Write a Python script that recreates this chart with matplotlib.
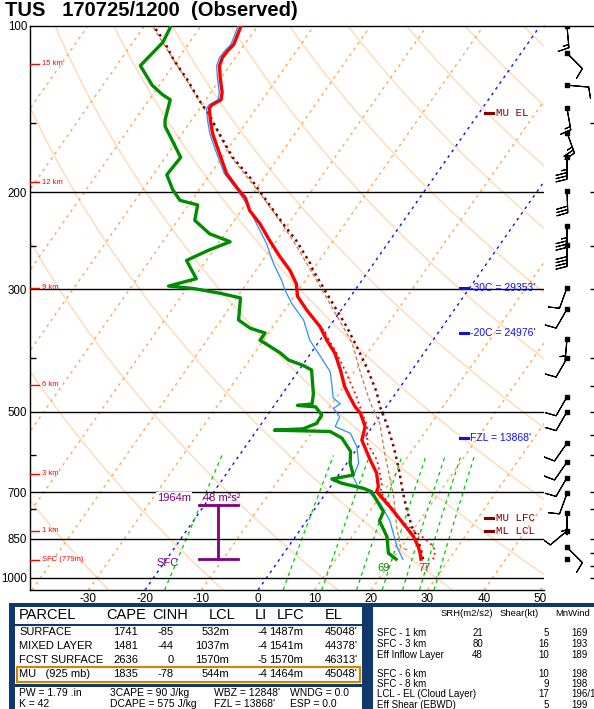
import numpy as np
import matplotlib
matplotlib.use('Agg')
import matplotlib.pyplot as plt
import matplotlib.transforms as mtrans
from matplotlib.patches import Rectangle
from matplotlib.ticker import FixedLocator, NullFormatter

plt.rcParams['font.family'] = ['Liberation Sans', 'DejaVu Sans']

# ---------------- sounding ----------------
station = 'TUS'
stamp = '170725/1200'

# temperature (C)
temp_p = [925, 902, 878, 842, 785, 743, 698, 684, 646, 611, 563, 532, 503, 490, 470, 450, 420, 392, 371, 351,
          327, 309, 293, 277, 262, 245, 228, 216, 205, 196, 185, 168, 157, 148, 141, 139, 136, 132, 124, 118,
          114, 111, 108, 100]
temp_c = [25.0, 24.1, 23.0, 20.9, 16.5, 13.0, 8.8, 8.5, 6.5, 3.7, -0.2, -1.3, -3.8, -5.5, -7.7, -9.9, -12.7, -15.7, -18.8, -21.6,
          -26.1, -29.4, -31.2, -34.0, -37.4, -41.2, -45.1, -48.5, -50.8, -53.7, -57.2, -61.5, -64.5, -66.7, -68.3, -68.3, -67.3, -68.0, -70.2, -71.8,
          -72.3, -72.2, -71.9, -72.9]

# dewpoint (C)
dwpt_p = [925, 902, 842, 788, 759, 698, 688, 674, 662, 651, 620, 590, 558, 543, 540, 537, 525, 507, 490, 487,
          484, 466, 460, 420, 412, 403, 391, 371, 360, 353, 341, 311, 305, 299, 296, 287, 266, 255, 246, 238,
          225, 211, 207, 198, 186, 173, 152, 148, 136, 133, 128, 118, 107, 100]
dwpt_c = [20.6, 18.5, 16.2, 12.9, 12.5, 7.9, 6.0, 1.6, -0.7, 2.6, 0.6, -0.8, -4.0, -6.9, -16.9, -12.0, -10.3, -10.4, -12.5, -15.9,
          -13.5, -14.4, -14.8, -17.8, -19.9, -23.1, -25.5, -30.6, -30.6, -33.8, -36.9, -39.3, -43.5, -48.8, -53.5, -49.5, -53.5, -50.9, -48.1, -52.7,
          -57.0, -58.4, -62.1, -64.7, -67.6, -67.3, -73.9, -74.7, -76.3, -78.4, -81.3, -85.8, -84.7, -85.3]

# wetbulb (C)
wb_p = [925, 878, 789, 732, 693, 688, 656, 620, 578, 547, 532, 511, 493, 484, 472, 453, 423, 397, 371, 341,
        318, 301, 289, 269, 248, 228, 210, 198, 185, 168, 157, 148, 141, 139, 136, 132, 124, 118, 114, 111,
        108, 100]
wb_c = [21.8, 19.2, 14.8, 10.8, 6.8, 5.2, 2.8, 2.1, -0.3, -3.1, -6.6, -7.0, -9.2, -8.5, -10.5, -11.9, -14.3, -17.9, -21.8, -25.4,
        -29.6, -32.4, -34.2, -37.8, -41.4, -45.7, -49.9, -53.3, -57.6, -62.0, -65.0, -67.2, -68.8, -68.8, -67.8, -68.5, -70.7, -72.3, -72.8, -72.7,
        -72.4, -73.4]

# virtual temperature (C)
tv_p = [925, 915, 878, 857, 837, 813, 775, 732, 700, 674, 611, 570, 532, 503, 470, 426, 392, 351]
tv_c = [27.1, 27.2, 25.7, 23.9, 21.9, 19.3, 15.5, 12.3, 9.6, 8.7, 4.9, 1.1, -0.9, -3.5, -6.5, -11.2, -15.4, -21.4]

# most unstable parcel (virtual)
mu_p = [925, 902, 878, 842, 808, 753, 703, 633, 578, 525, 490, 460, 416, 381, 351, 336, 327, 298, 277, 269,
        245, 228, 212, 202, 188, 173, 157, 146, 137, 125, 115, 106, 100]
mu_c = [25.4, 24.4, 23.3, 21.5, 19.4, 16.4, 13.7, 9.8, 6.2, 2.1, -1.1, -3.6, -8.3, -12.7, -16.9, -19.3, -20.8, -25.9, -29.9, -31.3,
        -36.5, -41.0, -45.4, -48.3, -52.6, -58.1, -63.3, -67.1, -70.8, -75.8, -80.7, -84.9, -88.4]

# second parcel trace (dashed brown)
ml_p = [890, 878, 808, 712, 595, 525, 482, 432, 375, 309, 251, 228, 202, 173, 146, 125, 100]
ml_c = [21.4, 19.8, 16.7, 12.4, 5.5, 0.9, -3.3, -8.1, -14.0, -24.4, -35.7, -41.2, -48.5, -58.3, -67.3, -76.0, -88.6]

# winds (deg, kt)
wind_p = [100, 112, 128, 141, 156, 173, 199, 230, 249, 298, 326, 369, 400, 470, 500, 570, 617, 658, 703, 763, 822, 880]
wind_dir = [175, 135, 95, 170, 160, 180, 178, 180, 180, 200, 210, 185, 210, 210, 210, 215, 215, 210, 200, 180, 230, 135]
wind_kt = [15, 10, 10, 15, 25, 35, 30, 35, 40, 10, 10, 5, 10, 10, 10, 10, 10, 10, 10, 5, 10, 10]
sfc_p = 925

# heights and levels
hgt_p = [117, 192, 298, 447, 648, 822, 928]
hgt_lbl = ['15 km', '12 km', '9 km', '6 km', '3 km', '1 km', 'SFC (779m)']
blue_lvl_p = [298, 360, 559]
blue_lvl_lbl = ["-30C = 29353'", "-20C = 24976'", "FZL = 13868'"]
par_lvl_p = [144, 780, 822]
par_lvl_lbl = ['MU EL', 'MU LFC', 'ML LCL']
eil_top_p, eil_bot_p = 738, 925
eil_top_m = 1964
eil_srh = 48

# parcel table
parcels = ['SURFACE', 'MIXED LAYER', 'FCST SURFACE', 'MU   (925 mb)']
cape = [1741, 1481, 2636, 1835]
cinh = [-85, -44, 0, -78]
lcl = [532, 1037, 1570, 544]
li = [-4, -4, -5, -4]
lfc = [1487, 1541, 1570, 1464]
el = [45048, 44378, 46313, 45048]
misc_row1 = ['PW = 1.79 .in', '3CAPE = 90 J/kg', "WBZ = 12848'", 'WNDG = 0.0']
misc_row2 = ['K = 42', 'DCAPE = 575 J/kg', "FZL = 13868'", 'ESP = 0.0']

# kinematic table
kin_lbl = ['SFC - 1 km', 'SFC - 3 km', 'Eff Inflow Layer', 'SFC - 6 km', 'SFC - 8 km', 'LCL - EL (Cloud Layer)', 'Eff Shear (EBWD)']
kin_srh = ['21', '80', '48', '', '', '', '']
kin_shear = ['5', '16', '10', '10', '9', '17', '5']
kin_mnw = ['169', '193', '189', '198', '198', '196/1', '199']

# ---------------- geometry ----------------
W, H = 594, 709
P_BOT, P_TOP = 1052., 100.
SKEW = 29.7
XMIN, XMAX = -40.35, 50.6
NAVY = '#10386c'


def skx(t, p):
    return np.asarray(t, float) + SKEW * np.log(P_BOT / np.asarray(p, float))


def fx(x):
    return x / W


def fy(y):
    return 1 - y / H


fig = plt.figure(figsize=(W / 100, H / 100), dpi=100)
fig.patch.set_facecolor('white')
ax = fig.add_axes([fx(30), fy(590), (544 - 30) / W, (590 - 26) / H])
ax.set_yscale('log')
ax.set_ylim(P_BOT, P_TOP)
ax.set_xlim(XMIN, XMAX)

# dry adiabats
pp = np.geomspace(P_BOT, P_TOP, 80)
for th in range(-50, 331, 20):
    t = (th + 273.15) * (pp / 1000.) ** 0.2857 - 273.15
    ax.plot(skx(t, pp), pp, color='#ffdcb8', lw=1.1, zorder=1)

# isotherms
for t in range(-160, 60, 10):
    col = '#1010ee' if t in (0, -20) else '#ffa54f'
    ax.plot(skx([t, t], [P_BOT, P_TOP]), [P_BOT, P_TOP], color=col, lw=1.0, ls=(0, (2, 3)), zorder=1)

# mixing ratio lines
pm = np.geomspace(P_BOT, 600, 30)
for w in [1, 5, 8, 12, 16, 20, 24, 28]:
    e = pm * w / (622. + w)
    le = np.log(e / 6.112)
    td = 243.5 * le / (17.67 - le)
    ax.plot(skx(td, pm), pm, color='#00cc00', lw=0.9, ls=(0, (3, 3)), zorder=1)

# isobars
for p in [200, 300, 500, 700, 850, 1000]:
    ax.axhline(p, color='black', lw=1.0, zorder=2)

# traces
ax.plot(skx(ml_c, ml_p), ml_p, color='#c8783c', lw=0.9, ls=(0, (3, 2)), zorder=3)
ax.plot(skx(mu_c, mu_p), mu_p, color='#800000', lw=1.8, ls=(0, (1, 1.6)), zorder=3)
ax.plot(skx(wb_c, wb_p), wb_p, color='#2a90ff', lw=0.9, zorder=4)
ax.plot(skx(dwpt_c, dwpt_p), dwpt_p, color='#008c00', lw=2.4, zorder=5)
ax.plot(skx(tv_c, tv_p), tv_p, color='red', lw=1.3, ls=(0, (1, 2)), zorder=5)
ax.plot(skx(temp_c, temp_p), temp_p, color='red', lw=2.4, zorder=6)

# axes / ticks
ax.set_xticks(range(-30, 60, 10))
ax.set_xticklabels([str(t) for t in range(-30, 60, 10)])
ax.tick_params(axis='x', length=0, pad=2, labelsize=8.5)
ax.set_yticks([100, 200, 300, 500, 700, 850, 1000])
ax.set_yticklabels(['100', '200', '300', '500', '700', '850', '1000'])
ax.yaxis.set_minor_locator(FixedLocator([150, 250, 400, 600, 750]))
ax.yaxis.set_minor_formatter(NullFormatter())
ax.tick_params(axis='y', which='major', length=0, pad=2, labelsize=8.3)
ax.tick_params(axis='y', which='minor', direction='in', length=4, width=1)
ax.spines['right'].set_visible(False)
for s in ['left', 'bottom', 'top']:
    ax.spines[s].set_linewidth(1.0)

blend = mtrans.blended_transform_factory(ax.transAxes, ax.transData)

# height labels on the left
for p, lbl in zip(hgt_p, hgt_lbl):
    ax.plot([0, 0.017], [p, p], color='red', lw=1, transform=blend, clip_on=False, zorder=7)
    ax.text(0.023, p, lbl, color='red', fontsize=5.5, va='center', transform=blend, zorder=7)

# level labels on the right
for p, lbl in zip(blue_lvl_p, blue_lvl_lbl):
    ax.plot([0.836, 0.852], [p, p], color='#1010ee', lw=2.2, transform=blend, zorder=7)
    ax.text(0.857, p, lbl, color='#1010ee', fontsize=7.5, va='center', transform=blend, zorder=7)
for p, lbl in zip(par_lvl_p, par_lvl_lbl):
    ax.plot([0.885, 0.901], [p, p], color='#800000', lw=2.2, transform=blend, zorder=7)
    ax.text(0.907, p, lbl, color='#800000', fontsize=7.8, va='center', transform=blend,
            family='Liberation Mono', zorder=7)

# effective inflow layer
PURPLE = '#800080'
ax.plot([0.366, 0.366], [eil_top_p, eil_bot_p], color=PURPLE, lw=2, transform=blend, zorder=7)
ax.plot([0.328, 0.404], [eil_top_p, eil_top_p], color=PURPLE, lw=2, transform=blend, zorder=7)
ax.plot([0.328, 0.404], [eil_bot_p, eil_bot_p], color=PURPLE, lw=2, transform=blend, zorder=7)
ax.text(0.247, 716, '%dm' % eil_top_m, color=PURPLE, fontsize=8, va='center', transform=blend, zorder=7,
        bbox=dict(fc='white', ec='none', pad=0.5))
ax.text(0.336, 716, '%d m²s²' % eil_srh, color=PURPLE, fontsize=8, va='center', transform=blend, zorder=7)
ax.text(0.247, 939, 'SFC', color=PURPLE, fontsize=8, va='center', transform=blend, zorder=7)

# surface T / Td in F
ax.text(0.687, 960, '%d' % round(dwpt_c[0] * 9 / 5 + 32), color='#008c00', fontsize=8, ha='center', va='center',
        transform=blend, zorder=7)
ax.text(0.768, 960, '%d' % round(temp_c[0] * 9 / 5 + 32), color='red', fontsize=8, ha='center', va='center',
        transform=blend, zorder=7)

# wind column
axw = fig.add_axes([fx(544), fy(590), 50 / W, (590 - 26) / H])
axw.set_yscale('log')
axw.set_ylim(P_BOT, P_TOP)
axw.set_xlim(0, 1)
axw.axis('off')
axw.axhline(P_TOP, color='black', lw=1.0, clip_on=False)
d = np.deg2rad(wind_dir)
u = -np.array(wind_kt) * np.sin(d)
v = -np.array(wind_kt) * np.cos(d)
axw.barbs(np.full(len(wind_p), 0.46), wind_p, u, v, length=5.6, linewidth=0.8, color='black',
          sizes=dict(spacing=0.15, height=0.5))
axw.plot(np.full(len(wind_p) + 1, 0.46), wind_p + [sfc_p], 's', ms=2.2, color='black')
axw.hlines([150, 200, 250, 300, 400, 450, 500, 550, 600, 700, 750, 850, 900, 950, 1000], 0.92, 1.0,
           color='black', lw=1.0)

# title
fig.text(fx(5), fy(11), '%s   %s  (Observed)' % (station, stamp), fontsize=14.5, fontweight='bold', va='center')

# ---------------- tables ----------------
def rect(x0, y0, x1, y1, **kw):
    fig.patches.append(Rectangle((fx(x0), fy(y1)), (x1 - x0) / W, (y1 - y0) / H,
                                 transform=fig.transFigure, **kw))


rect(9, 603, 600, 715, fc=NAVY, ec='none')
rect(15, 607, 362, 715, fc='white', ec='none')
rect(373, 607, 600, 715, fc='white', ec='none')
rect(15, 624, 362, 626, fc=NAVY, ec='none')
rect(15, 684, 362, 687, fc=NAVY, ec='none')
rect(17, 667, 360, 682, fc='none', ec='#cc8800', lw=1.6)

hdr = [('CAPE', 126), ('CINH', 170), ('LCL', 222), ('LI', 261), ('LFC', 291), ('EL', 334)]
fig.text(fx(19), fy(615), 'PARCEL', fontsize=10.5, va='center')
for name, xc in hdr:
    fig.text(fx(xc), fy(615), name, fontsize=10.5, va='center', ha='center')

row_y = [632, 646, 660, 674]
for i, y in enumerate(row_y):
    fig.text(fx(19), fy(y), parcels[i], fontsize=8, va='center')
    fig.text(fx(138), fy(y), str(cape[i]), fontsize=8, va='center', ha='right')
    fig.text(fx(174), fy(y), str(cinh[i]), fontsize=8, va='center', ha='right')
    fig.text(fx(229), fy(y), '%dm' % lcl[i], fontsize=8, va='center', ha='right')
    fig.text(fx(267), fy(y), str(li[i]), fontsize=8, va='center', ha='right')
    fig.text(fx(303), fy(y), '%dm' % lfc[i], fontsize=8, va='center', ha='right')
    fig.text(fx(358), fy(y), "%d'" % el[i], fontsize=8, va='center', ha='right')

for txt, x in zip(misc_row1, [19, 110, 214, 290]):
    fig.text(fx(x), fy(693), txt, fontsize=7.5, va='center')
for txt, x in zip(misc_row2, [19, 110, 214, 290]):
    fig.text(fx(x), fy(704), txt, fontsize=7.5, va='center')

fig.text(fx(441), fy(613), 'SRH(m2/s2)', fontsize=6.8, va='center')
fig.text(fx(500), fy(613), 'Shear(kt)', fontsize=6.8, va='center')
fig.text(fx(555), fy(613), 'MnWind', fontsize=6.8, va='center')
kin_y = [633, 644, 655, 674, 684, 694, 705]
for i, y in enumerate(kin_y):
    fig.text(fx(377), fy(y), kin_lbl[i], fontsize=7, va='center')
    fig.text(fx(483), fy(y), kin_srh[i], fontsize=7, va='center', ha='right')
    fig.text(fx(549), fy(y), kin_shear[i], fontsize=7, va='center', ha='right')
    fig.text(fx(571), fy(y), kin_mnw[i], fontsize=7, va='center')

fig.savefig('out.png', dpi=100, facecolor='white')
